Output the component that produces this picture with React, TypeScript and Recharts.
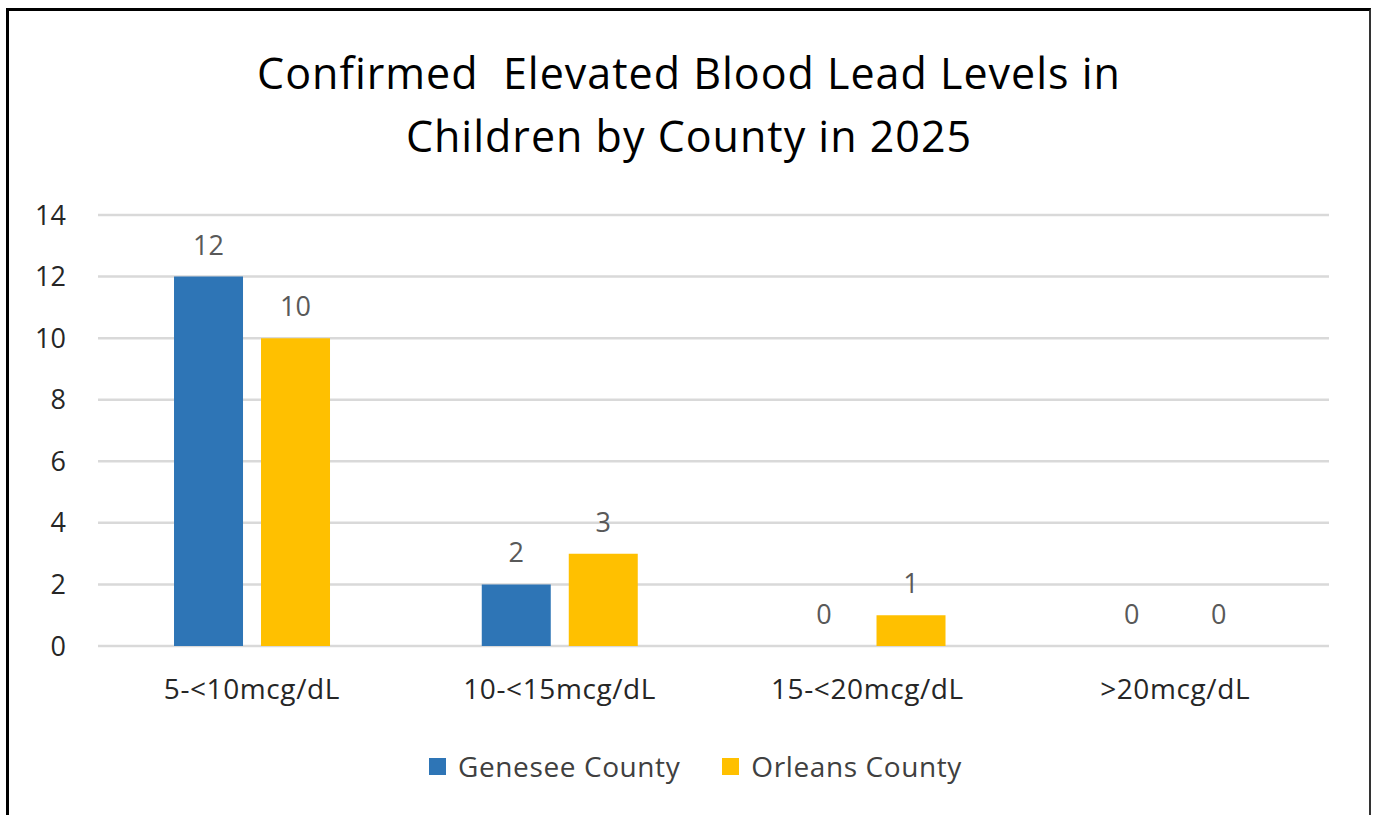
import React from 'react';
import { BarChart, Bar, XAxis, YAxis, CartesianGrid, Legend, LabelList } from 'recharts';

const categories = ['5-<10mcg/dL', '10-<15mcg/dL', '15-<20mcg/dL', '>20mcg/dL'];
const geneseeCounts = [12, 2, 0, 0];
const orleansCounts = [10, 3, 1, 0];
const yTicks = [0, 2, 4, 6, 8, 10, 12, 14];

const data = categories.map((name, i) => ({
  name,
  genesee: geneseeCounts[i],
  orleans: orleansCounts[i],
}));

const FONT = '"Open Sans", Lato, sans-serif';
const BLUE = '#2E75B6';
const GOLD = '#FFC000';

const renderLegend = (props: any) => {
  const { payload } = props;
  return (
    <div style={{ display: 'flex', justifyContent: 'center', gap: 42, paddingLeft: 24, fontFamily: FONT, fontSize: 28, letterSpacing: 0.6, color: '#404040' }}>
      {payload.map((entry: any) => (
        <div key={entry.value} style={{ display: 'flex', alignItems: 'center' }}>
          <span style={{ display: 'inline-block', width: 17, height: 17, background: entry.color, marginRight: 12 }} />
          <span>{entry.value}</span>
        </div>
      ))}
    </div>
  );
};

export default function App() {
  return (
    <div style={{ position: 'absolute', left: 0, top: 0, width: 1375, height: 815, background: '#fff', overflow: 'hidden' }}>
      <div
        style={{
          position: 'absolute',
          left: 6,
          top: 8,
          width: 1360,
          height: 830,
          borderLeft: '3px solid #000',
          borderTop: '3px solid #000',
          borderRight: '2px solid #333',
        }}
      />
      <div
        style={{
          position: 'absolute',
          left: 8,
          top: 41,
          width: 1362,
          textAlign: 'center',
          fontFamily: FONT,
          fontSize: 43,
          letterSpacing: 1,
          lineHeight: '63px',
          color: '#000',
          whiteSpace: 'pre',
        }}
      >
        {'Confirmed  Elevated Blood Lead Levels in'}
        <br />
        Children by County in 2025
      </div>
      <div style={{ position: 'absolute', left: 0, top: 0 }}>
        <BarChart
          width={1375}
          height={815}
          data={data}
          margin={{ top: 215, right: 46, left: 38, bottom: 32 }}
          barCategoryGap="24.7%"
          barGap={18}
        >
          <CartesianGrid vertical={false} stroke="#d9d9d9" strokeWidth={2.5} />
          <XAxis
            dataKey="name"
            axisLine={false}
            tickLine={false}
            tickMargin={27}
            height={101}
            tick={{ fontFamily: FONT, fontSize: 28, letterSpacing: 0.6, fill: '#262626' }}
          />
          <YAxis
            width={60}
            domain={[0, 14]}
            ticks={yTicks}
            axisLine={false}
            tickLine={false}
            tickMargin={26}
            tick={{ fontFamily: FONT, fontSize: 27, fill: '#262626' }}
          />
          <Legend verticalAlign="bottom" content={renderLegend} wrapperStyle={{ height: 36 }} />
          <Bar dataKey="genesee" name="Genesee County" fill={BLUE} minPointSize={0.01} isAnimationActive={false}>
            <LabelList dataKey="genesee" position="top" offset={22} fill="#595959" fontFamily={FONT} fontSize={27} />
          </Bar>
          <Bar dataKey="orleans" name="Orleans County" fill={GOLD} minPointSize={0.01} isAnimationActive={false}>
            <LabelList dataKey="orleans" position="top" offset={22} fill="#595959" fontFamily={FONT} fontSize={27} />
          </Bar>
        </BarChart>
      </div>
    </div>
  );
}
